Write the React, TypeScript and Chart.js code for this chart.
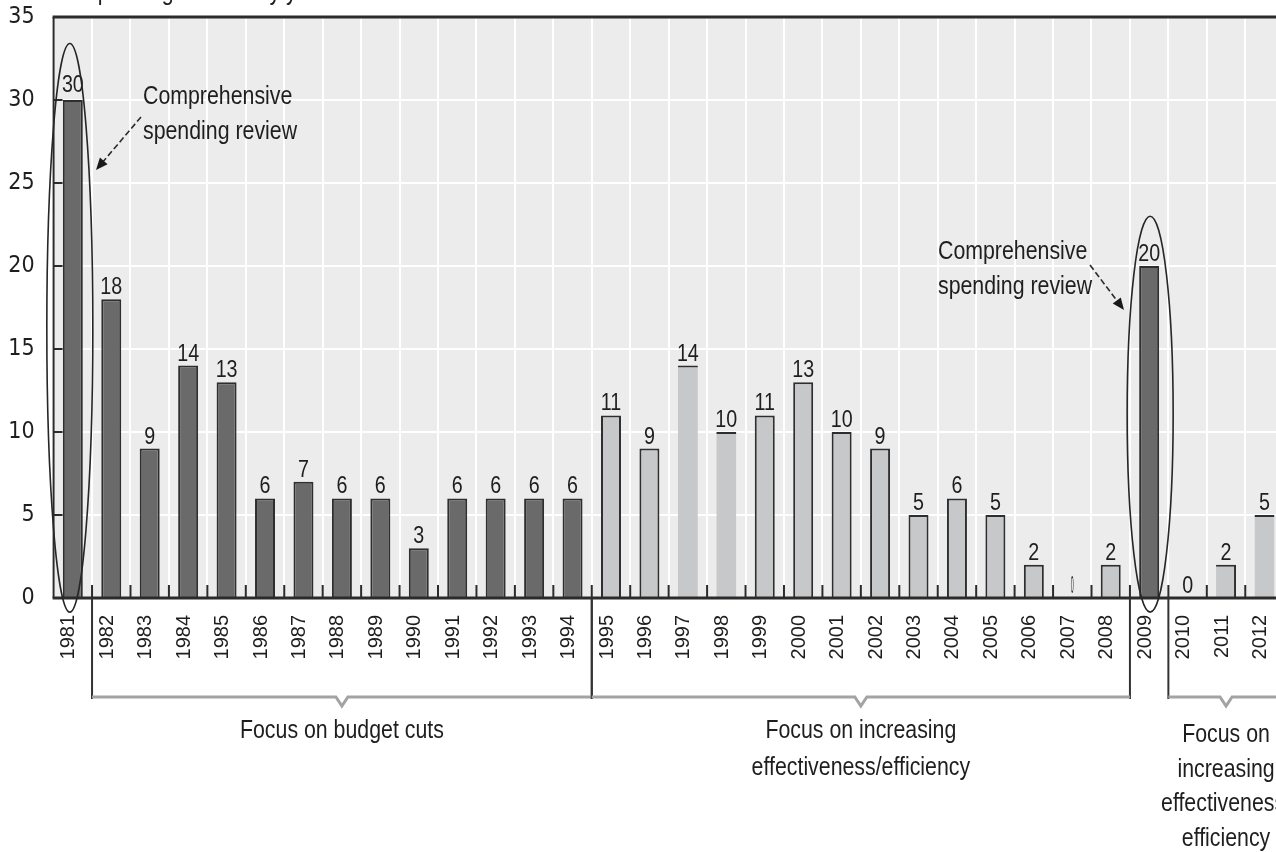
import React, { useEffect, useRef } from "react";
import { Chart, registerables } from "chart.js";

Chart.register(...registerables);

// ---------- data ----------
const years = [
  "1981", "1982", "1983", "1984", "1985", "1986", "1987", "1988", "1989", "1990",
  "1991", "1992", "1993", "1994", "1995", "1996", "1997", "1998", "1999", "2000",
  "2001", "2002", "2003", "2004", "2005", "2006", "2007", "2008", "2009", "2010",
  "2011", "2012",
];
const reviews = [
  30, 18, 9, 14, 13, 6, 7, 6, 6, 3,
  6, 6, 6, 6, 11, 9, 14, 10, 11, 13,
  10, 9, 5, 6, 5, 2, 0, 2, 20, 0,
  2, 5,
];
// years drawn in the dark shade (budget-cut era and comprehensive reviews)
const darkYears = [
  "1981", "1982", "1983", "1984", "1985", "1986", "1987", "1988", "1989", "1990",
  "1991", "1992", "1993", "1994", "2009",
];
const comprehensiveYears = ["1981", "2009"];
const yTicks = [0, 5, 10, 15, 20, 25, 30, 35];
const groupFrom = ["1982", "1995", "2010"];
const groupTo = ["1994", "2008", "2012"];
const groupLabels = [
  ["Focus on budget cuts"],
  ["Focus on increasing", "effectiveness/efficiency"],
  ["Focus on", "increasing", "effectiveness/", "efficiency"],
];
const annotationLines = ["Comprehensive", "spending review"];
const titleText = "Number of spending reviews by year";

// ---------- styling ----------
const CONDENSED = '"DejaVu Sans Condensed", "Liberation Sans Narrow", "Liberation Sans", sans-serif';
const REGULAR = '"Liberation Sans", Arial, sans-serif';
const INK = "#1e1e1e";
const DARK_BAR = "#6a6a6a";
const LIGHT_BAR = "#c7c8ca";
const SQUEEZE = 0.82;

const barColors = years.map((y) => (darkYears.includes(y) ? DARK_BAR : LIGHT_BAR));
const barBorders = years.map((y) => {
  if (y === "1997" || y === "1998" || y === "2012") return { top: 2, left: 0, right: 0, bottom: 0 };
  if (y === "2011") return { top: 2, left: 0, right: 2, bottom: 0 };
  return { top: 2, left: 2, right: 2, bottom: 0 };
});

function narrowText(
  ctx: CanvasRenderingContext2D,
  text: string,
  x: number,
  y: number,
  size: number,
  align: CanvasTextAlign,
  squeeze = SQUEEZE,
) {
  ctx.save();
  ctx.font = `${size}px ${REGULAR}`;
  ctx.textAlign = align;
  ctx.translate(x, y);
  ctx.scale(squeeze, 1);
  ctx.fillText(text, 0, 0);
  ctx.restore();
}

function arrow(ctx: CanvasRenderingContext2D, x1: number, y1: number, x2: number, y2: number) {
  const ang = Math.atan2(y2 - y1, x2 - x1);
  const head = 13;
  ctx.save();
  ctx.strokeStyle = "#2a2a2a";
  ctx.fillStyle = "#1a1a1a";
  ctx.lineWidth = 1.6;
  ctx.setLineDash([6, 3]);
  ctx.beginPath();
  ctx.moveTo(x1, y1);
  ctx.lineTo(x2 - Math.cos(ang) * head * 0.8, y2 - Math.sin(ang) * head * 0.8);
  ctx.stroke();
  ctx.setLineDash([]);
  ctx.beginPath();
  ctx.moveTo(x2, y2);
  ctx.lineTo(x2 - head * Math.cos(ang - 0.4), y2 - head * Math.sin(ang - 0.4));
  ctx.lineTo(x2 - head * Math.cos(ang + 0.4), y2 - head * Math.sin(ang + 0.4));
  ctx.closePath();
  ctx.fill();
  ctx.restore();
}

const decor = {
  id: "decor",
  beforeDraw(chart: any) {
    const { ctx, chartArea: a } = chart;
    ctx.save();
    ctx.fillStyle = "#ececec";
    ctx.fillRect(a.left, a.top, a.right - a.left, a.bottom - a.top);
    ctx.restore();
  },
  afterDatasetsDraw(chart: any) {
    const { ctx, chartArea: a } = chart;
    const xs = chart.scales.x;
    const ys = chart.scales.y;
    const cw = xs.getPixelForValue(1) - xs.getPixelForValue(0);
    ctx.save();
    ctx.strokeStyle = "#2b2b2b";
    // small ticks at category boundaries along the bottom
    ctx.lineWidth = 2;
    for (let i = 1; i < years.length; i++) {
      const x = xs.getPixelForValue(i) - cw / 2;
      ctx.beginPath();
      ctx.moveTo(x, a.bottom);
      ctx.lineTo(x, a.bottom - 13);
      ctx.stroke();
    }
    // inner ticks on y axis
    yTicks.forEach((v) => {
      if (v === 0 || v === 35) return;
      const y = ys.getPixelForValue(v);
      ctx.beginPath();
      ctx.moveTo(a.left, y);
      ctx.lineTo(a.left + 9, y);
      ctx.stroke();
    });
    // frame
    ctx.lineWidth = 2;
    ctx.beginPath();
    ctx.moveTo(a.left, a.top);
    ctx.lineTo(a.left, a.bottom);
    ctx.stroke();
    ctx.lineWidth = 3;
    ctx.beginPath();
    ctx.moveTo(a.left - 1, a.top);
    ctx.lineTo(a.right, a.top);
    ctx.stroke();
    ctx.beginPath();
    ctx.moveTo(a.left - 1, a.bottom);
    ctx.lineTo(a.right, a.bottom);
    ctx.stroke();
    // value labels
    ctx.fillStyle = INK;
    ctx.textBaseline = "alphabetic";
    const meta = chart.getDatasetMeta(0);
    meta.data.forEach((bar: any, i: number) => {
      const txt = String(reviews[i]);
      if (years[i] === "2007") {
        narrowText(ctx, txt, bar.x, bar.y - 5, 24, "center", 0.22);
      } else {
        narrowText(ctx, txt, bar.x, bar.y - (reviews[i] >= 30 ? 8 : 5), 24, "center");
      }
    });
    ctx.restore();
  },
  afterDraw(chart: any) {
    const { ctx, chartArea: a } = chart;
    const xs = chart.scales.x;
    const ys = chart.scales.y;
    const cw = xs.getPixelForValue(1) - xs.getPixelForValue(0);
    ctx.save();

    // clipped title at the very top
    ctx.fillStyle = INK;
    ctx.textBaseline = "alphabetic";
    ctx.font = `26px ${REGULAR}`;
    const pre = ctx.measureText("Number of ").width * SQUEEZE;
    narrowText(ctx, titleText, 87 - pre, 0, 26, "left");

    // ellipses around comprehensive review years
    ctx.strokeStyle = "#262626";
    ctx.lineWidth = 1.6;
    comprehensiveYears.forEach((yr, k) => {
      const i = years.indexOf(yr);
      const cx = xs.getPixelForValue(i) + (k === 0 ? -3 : 1);
      const top = ys.getPixelForValue(k === 0 ? 33.4 : 23.0);
      const bot = ys.getPixelForValue(-0.85);
      ctx.beginPath();
      ctx.ellipse(cx, (top + bot) / 2, 23, (bot - top) / 2, 0, 0, Math.PI * 2);
      ctx.stroke();
    });

    // annotations
    ctx.fillStyle = INK;
    ctx.textBaseline = "middle";
    narrowText(ctx, annotationLines[0], 143, 97, 26, "left");
    narrowText(ctx, annotationLines[1], 143, 132, 26, "left");
    arrow(ctx, 141, 117, 96, 170);
    narrowText(ctx, annotationLines[0], 938, 252, 26, "left");
    narrowText(ctx, annotationLines[1], 938, 287, 26, "left");
    arrow(ctx, 1090, 265, 1124, 310);

    // brackets beneath the axis
    const bracketY = 697;
    groupFrom.forEach((from, g) => {
      const i0 = years.indexOf(from);
      const i1 = years.indexOf(groupTo[g]);
      const x0 = xs.getPixelForValue(i0) - cw / 2;
      const x1 = xs.getPixelForValue(i1) + cw / 2;
      const mid = (x0 + x1) / 2;
      ctx.strokeStyle = "#333";
      ctx.lineWidth = 2;
      ctx.beginPath();
      ctx.moveTo(x0, a.bottom);
      ctx.lineTo(x0, bracketY + 2);
      ctx.moveTo(x1, a.bottom);
      ctx.lineTo(x1, bracketY + 2);
      ctx.stroke();
      ctx.strokeStyle = "#a3a3a3";
      ctx.lineWidth = 3;
      ctx.beginPath();
      ctx.moveTo(x0, bracketY);
      ctx.lineTo(mid - 6, bracketY);
      ctx.lineTo(mid, bracketY + 9);
      ctx.lineTo(mid + 6, bracketY);
      ctx.lineTo(x1, bracketY);
      ctx.stroke();
      ctx.fillStyle = INK;
      ctx.textBaseline = "middle";
      const startY = g === 2 ? 735 : 731;
      const lh = g === 2 ? 34.5 : 37;
      groupLabels[g].forEach((line, j) => {
        narrowText(ctx, line, mid, startY + j * lh, 26, "center");
      });
    });
    ctx.restore();
  },
};

export default function App() {
  const ref = useRef<HTMLCanvasElement | null>(null);
  useEffect(() => {
    if (!ref.current) return;
    const chart = new Chart(ref.current, {
      type: "bar",
      data: {
        labels: years,
        datasets: [
          {
            data: reviews,
            backgroundColor: barColors,
            borderColor: "#2e2e2e",
            borderWidth: barBorders as any,
            borderSkipped: false as any,
            barPercentage: 0.52,
            categoryPercentage: 1,
          },
        ],
      },
      options: {
        responsive: false,
        animation: false,
        layout: { padding: { left: 0, right: 16.3, top: 17, bottom: 0 } },
        plugins: {
          legend: { display: false },
          tooltip: { enabled: false },
          title: { display: false },
        },
        scales: {
          x: {
            offset: true,
            grid: { offset: true, color: "#ffffff", lineWidth: 2, drawTicks: false },
            border: { display: false },
            ticks: {
              autoSkip: false,
              minRotation: 90,
              maxRotation: 90,
              padding: 17,
              labelOffset: -4,
              color: INK,
              font: { family: REGULAR, size: 20 },
            },
            afterFit: (s: any) => {
              s.height = 254;
              s.paddingLeft = 0;
              s.paddingRight = 0;
            },
          },
          y: {
            min: 0,
            max: 35,
            ticks: {
              stepSize: 5,
              padding: 19,
              color: INK,
              font: { family: CONDENSED, size: 23 },
            },
            grid: { color: "#ffffff", lineWidth: 2, drawTicks: false },
            border: { display: false },
            afterFit: (s: any) => {
              s.width = 53.6;
              s.paddingTop = 0;
              s.paddingBottom = 0;
            },
          },
        },
      },
      plugins: [decor],
    });
    return () => chart.destroy();
  }, []);

  return (
    <div style={{ position: "absolute", left: 0, top: 0, width: 1276, height: 852, overflow: "hidden", background: "#fff" }}>
      <canvas ref={ref} width={1300} height={852} style={{ display: "block" }} />
    </div>
  );
}
